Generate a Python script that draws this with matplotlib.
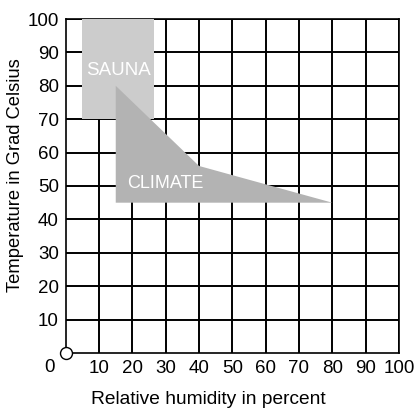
import matplotlib
matplotlib.use("Agg")
import matplotlib.pyplot as plt
from matplotlib.patches import Polygon, Rectangle

plt.rcParams['font.family'] = ['Liberation Sans', 'DejaVu Sans']

# Data
x_ticks = [10, 20, 30, 40, 50, 60, 70, 80, 90, 100]
y_ticks = [10, 20, 30, 40, 50, 60, 70, 80, 90, 100]
sauna_humidity = [5, 26.5]      # min, max relative humidity
sauna_temp = [70, 100]          # min, max temperature
climate_humidity = [15, 15, 40, 80]
climate_temp = [45, 80, 56, 45]
x_label = "Relative humidity in percent"
y_label = "Temperature in Grad Celsius"

fig = plt.figure(figsize=(4.19, 4.09), dpi=100)
ax = fig.add_axes([0.157, 0.137, 0.795, 0.8165])
ax.set_xlim(0, 100)
ax.set_ylim(0, 100)

ax.set_xticks(x_ticks)
ax.set_yticks(y_ticks)
ax.set_xticklabels([str(v) for v in x_ticks], fontsize=13.5)
ax.set_yticklabels([str(v) for v in y_ticks], fontsize=13.5)
ax.tick_params(length=0, pad=5)
ax.tick_params(axis='x', pad=5)

ax.grid(True, color='black', linewidth=1.4, zorder=1)
ax.set_axisbelow(True)
for s in ax.spines.values():
    s.set_linewidth(1.2)
    s.set_color('black')

sauna = Rectangle((sauna_humidity[0], sauna_temp[0]),
                  sauna_humidity[1] - sauna_humidity[0],
                  sauna_temp[1] - sauna_temp[0],
                  facecolor='#cccccc', edgecolor='none', zorder=3)
ax.add_patch(sauna)
climate = Polygon(list(zip(climate_humidity, climate_temp)), closed=True,
                  facecolor='#b3b3b3', edgecolor='none', zorder=4)
ax.add_patch(climate)

ax.text(15.8, 84.5, "SAUNA", color='white', fontsize=13.5,
        ha='center', va='center', zorder=5)
ax.text(30, 50.7, "CLIMATE", color='white', fontsize=13,
        ha='center', va='center', zorder=5)

ax.plot([0], [0], marker='o', markersize=8.6, markerfacecolor='white',
        markeredgecolor='black', markeredgewidth=1.0, clip_on=False, zorder=6)
ax.annotate("0", xy=(0, 0), xycoords='data', xytext=(-16, -6),
            textcoords='offset pixels', ha='center', va='top', fontsize=13.5)

fig.text(208.5 / 419, 1 - 399 / 409, x_label, fontsize=13.8,
         ha='center', va='center')
fig.text(16 / 419, 1 - 175.5 / 409, y_label, fontsize=13.2, rotation=90,
         ha='center', va='center')

fig.savefig("out.png", dpi=100)
